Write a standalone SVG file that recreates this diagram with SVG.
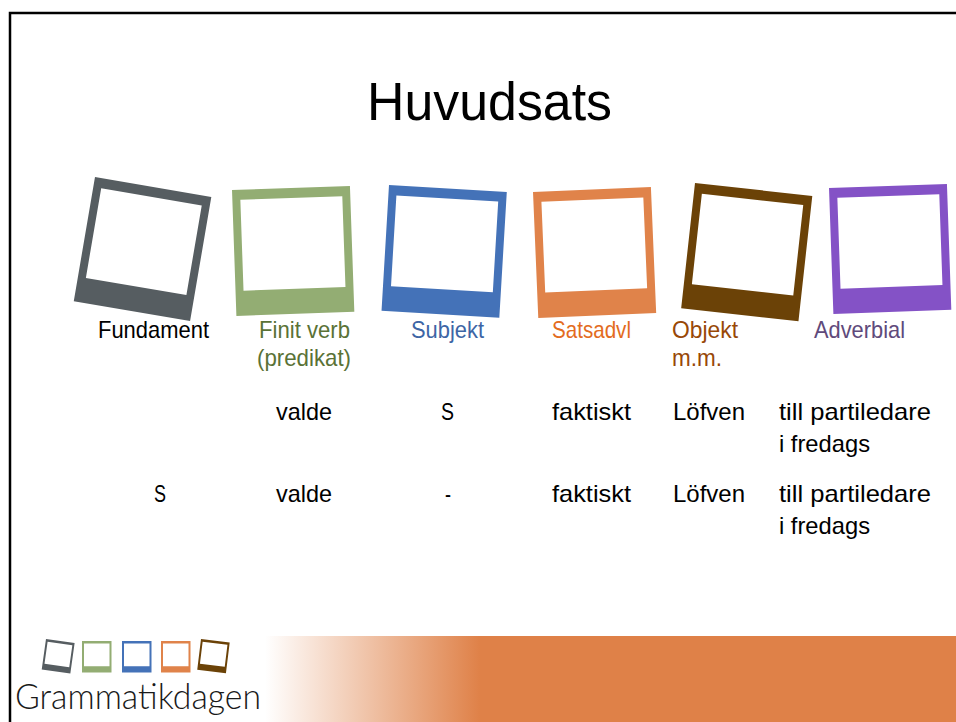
<svg xmlns="http://www.w3.org/2000/svg" width="956" height="722" viewBox="0 0 956 722">
<style>
.t{font-family:"Liberation Sans",Arial,sans-serif;font-size:24px;fill:#000}
.title{font-family:"Liberation Sans",Arial,sans-serif;font-size:54px;fill:#000}
.logo{font-family:Lato,"Liberation Sans",sans-serif;font-weight:300;font-size:36px;fill:#1a1a1a}
</style>
<defs>
<path id="pol" fill-rule="evenodd" d="M0 0H118V126H0Z M8 10V101H110V10Z"/>
<linearGradient id="band" x1="265" y1="0" x2="480" y2="0" gradientUnits="userSpaceOnUse">
<stop offset="0" stop-color="#DF8148" stop-opacity="0"/>
<stop offset="1" stop-color="#DF8148"/>
</linearGradient>
</defs>
<rect width="956" height="722" fill="#fff"/>
<path d="M10 722V13H956" fill="none" stroke="#000" stroke-width="2.5"/>
<rect x="265" y="636" width="691" height="86" fill="url(#band)"/>
<text class="title" x="367" y="120" textLength="245" lengthAdjust="spacingAndGlyphs">Huvudsats</text>

<g id="fundament">
<use href="#pol" fill="#565D61" transform="translate(95,177) rotate(9.7)"/>
<text class="t" x="98" y="338" textLength="111" lengthAdjust="spacingAndGlyphs">Fundament</text>
</g>
<g id="finit-verb">
<use href="#pol" fill="#93AD73" transform="translate(232,190) rotate(-2)"/>
<text class="t" style="fill:#5A7236" x="259" y="338" textLength="91" lengthAdjust="spacingAndGlyphs">Finit verb</text>
<text class="t" style="fill:#5A7236" x="257" y="366" textLength="94" lengthAdjust="spacingAndGlyphs">(predikat)</text>
</g>
<g id="subjekt">
<use href="#pol" fill="#4472B8" transform="translate(389,185) rotate(3.4)"/>
<text class="t" style="fill:#3D65A5" x="411" y="338" textLength="73" lengthAdjust="spacingAndGlyphs">Subjekt</text>
</g>
<g id="satsadvl">
<use href="#pol" fill="#E0834A" transform="translate(533,192) rotate(-2.4)"/>
<text class="t" style="fill:#E36C1E" x="552" y="338" textLength="79" lengthAdjust="spacingAndGlyphs">Satsadvl</text>
</g>
<g id="objekt">
<use href="#pol" fill="#6B4207" transform="translate(695,183) rotate(6.3)"/>
<text class="t" style="fill:#984807" x="672" y="338" textLength="66" lengthAdjust="spacingAndGlyphs">Objekt</text>
<text class="t" style="fill:#984807" x="672" y="366" textLength="50" lengthAdjust="spacingAndGlyphs">m.m.</text>
</g>
<g id="adverbial">
<use href="#pol" fill="#8452C6" transform="translate(829,188) rotate(-2)"/>
<text class="t" style="fill:#604A7B" x="814" y="338" textLength="91" lengthAdjust="spacingAndGlyphs">Adverbial</text>
</g>

<g id="row1">
<text class="t" x="276" y="420" textLength="56" lengthAdjust="spacingAndGlyphs">valde</text>
<text class="t" x="441" y="420" textLength="13" lengthAdjust="spacingAndGlyphs">S</text>
<text class="t" x="552" y="420" textLength="79" lengthAdjust="spacingAndGlyphs">faktiskt</text>
<text class="t" x="673" y="420" textLength="72" lengthAdjust="spacingAndGlyphs">Löfven</text>
<text class="t" x="779" y="420" textLength="152" lengthAdjust="spacingAndGlyphs">till partiledare</text>
<text class="t" x="779" y="452" textLength="91" lengthAdjust="spacingAndGlyphs">i fredags</text>
</g>
<g id="row2">
<text class="t" x="154" y="502" textLength="12" lengthAdjust="spacingAndGlyphs">S</text>
<text class="t" x="276" y="502" textLength="56" lengthAdjust="spacingAndGlyphs">valde</text>
<text class="t" x="445" y="502" textLength="6" lengthAdjust="spacingAndGlyphs">-</text>
<text class="t" x="552" y="502" textLength="79" lengthAdjust="spacingAndGlyphs">faktiskt</text>
<text class="t" x="673" y="502" textLength="72" lengthAdjust="spacingAndGlyphs">Löfven</text>
<text class="t" x="779" y="502" textLength="152" lengthAdjust="spacingAndGlyphs">till partiledare</text>
<text class="t" x="779" y="534" textLength="91" lengthAdjust="spacingAndGlyphs">i fredags</text>
</g>

<g id="logo">
<use href="#pol" fill="#565D61" transform="translate(46,639) rotate(8) scale(0.245)"/>
<use href="#pol" fill="#93AD73" transform="translate(82,641) scale(0.25)"/>
<use href="#pol" fill="#4472B8" transform="translate(122,641) scale(0.25)"/>
<use href="#pol" fill="#E0834A" transform="translate(161,641) scale(0.25)"/>
<use href="#pol" fill="#6B4207" transform="translate(201,639) rotate(7) scale(0.245)"/>
<text class="logo" x="15" y="709" textLength="246" lengthAdjust="spacingAndGlyphs">Grammatikdagen</text>
</g>
</svg>
